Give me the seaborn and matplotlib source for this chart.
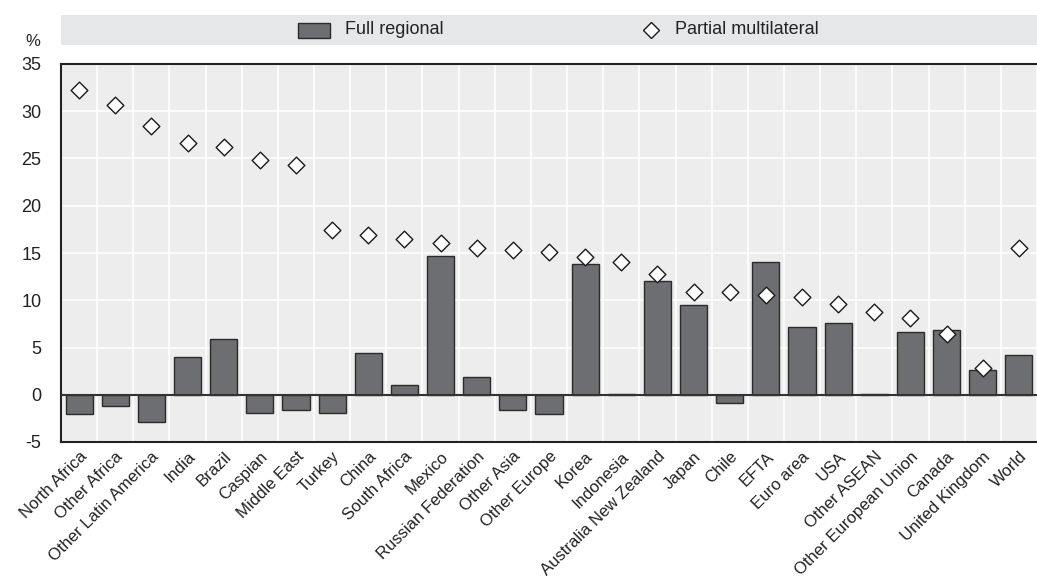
import matplotlib
matplotlib.use("Agg")
import matplotlib.pyplot as plt
import seaborn as sns
import pandas as pd
from matplotlib.patches import Rectangle
from matplotlib.lines import Line2D
from matplotlib.ticker import FixedLocator

categories = ["North Africa", "Other Africa", "Other Latin America", "India", "Brazil",
              "Caspian", "Middle East", "Turkey", "China", "South Africa", "Mexico",
              "Russian Federation", "Other Asia", "Other Europe", "Korea", "Indonesia",
              "Australia New Zealand", "Japan", "Chile", "EFTA", "Euro area", "USA",
              "Other ASEAN", "Other European Union", "Canada", "United Kingdom", "World"]
full_regional = [-2.0, -1.2, -2.9, 4.0, 5.9, -1.9, -1.6, -1.9, 4.45, 1.0, 14.7,
                 1.85, -1.6, -2.0, 13.8, 0.05, 12.0, 9.5, -0.9, 14.1, 7.2, 7.6,
                 0.05, 6.6, 6.8, 2.65, 4.2]
partial_multilateral = [32.25, 30.7, 28.4, 26.6, 26.2, 24.85, 24.3, 17.4, 16.9, 16.45,
                        16.1, 15.55, 15.35, 15.15, 14.6, 14.1, 12.8, 10.9, 10.9, 10.55,
                        10.35, 9.6, 8.75, 8.1, 6.45, 2.85, 15.5]
y_ticks = [-5, 0, 5, 10, 15, 20, 25, 30, 35]

sns.set_theme(style="white")
plt.rcParams['font.family'] = ['Liberation Sans', 'DejaVu Sans']

df = pd.DataFrame({"cat": categories, "full": full_regional, "partial": partial_multilateral})

fig = plt.figure(figsize=(10.37, 5.86), dpi=100)
ax = fig.add_axes([61/1037, (586-442)/586, 1 - 61/1037, (442-64)/586])
ax.set_facecolor("#ededed")

sns.barplot(data=df, x="cat", y="full", color="#6d6e71", saturation=1, width=0.75,
            edgecolor="#2b2b2b", linewidth=1.0, ax=ax, zorder=2)
sns.stripplot(data=df, x="cat", y="partial", jitter=False, marker="D", size=8.5,
              color="white", edgecolor="#1a1a1a", linewidth=1.0, ax=ax, zorder=4)

n = len(categories)
ax.set_xlim(-0.5, n - 0.5)
ax.set_ylim(-5, 35)
ax.set_yticks(y_ticks)
ax.set_yticklabels([str(t) for t in y_ticks], fontsize=13, color="#222222")
ax.set_xticks(range(n))
ax.set_xticklabels(categories, rotation=45, ha="right", rotation_mode="anchor",
                   fontsize=12, color="#222222")
ax.xaxis.set_minor_locator(FixedLocator([i + 0.5 for i in range(-1, n)]))
ax.tick_params(axis="x", which="major", length=0, pad=5)
ax.tick_params(axis="x", which="minor", direction="in", length=6, width=1, color="#333333")
ax.tick_params(axis="y", which="major", direction="in", length=6, width=1, color="#333333", pad=14)
ax.set_xlabel("")
ax.set_ylabel("")

ax.grid(False)
ax.xaxis.grid(True, which="minor", color="white", linewidth=1.2, zorder=0)
ax.yaxis.grid(True, which="major", color="white", linewidth=1.2, zorder=0)
ax.set_axisbelow(True)
ax.axhline(0, color="#333333", linewidth=1.5, zorder=3)

for side in ["left", "bottom", "top"]:
    ax.spines[side].set_visible(True)
    ax.spines[side].set_color("#222222")
    ax.spines[side].set_linewidth(1.5)
ax.spines["right"].set_visible(False)

# legend band
fig.patches.append(Rectangle((61/1037, 1 - 45/586), 1 - 61/1037, 30/586,
                             transform=fig.transFigure, facecolor="#e6e7e8",
                             edgecolor="none", zorder=0))
fig.patches.append(Rectangle((298/1037, 1 - 38/586), 32/1037, 15/586,
                             transform=fig.transFigure, facecolor="#6d6e71",
                             edgecolor="#2b2b2b", linewidth=1.0, zorder=1))
fig.text(345/1037, 1 - 30/586, "Full regional", fontsize=13, va="center",
         ha="left", color="#222222")
fig.lines.append(Line2D([651/1037], [1 - 30/586], transform=fig.transFigure,
                        marker="D", markersize=8.5, markerfacecolor="white",
                        markeredgecolor="#1a1a1a", markeredgewidth=1.0, linestyle="none"))
fig.text(675/1037, 1 - 30/586, "Partial multilateral", fontsize=13, va="center",
         ha="left", color="#222222")
fig.text(33/1037, 1 - 42/586, "%", fontsize=12, va="center", ha="center", color="#222222")

fig.savefig("out.png", dpi=100)
